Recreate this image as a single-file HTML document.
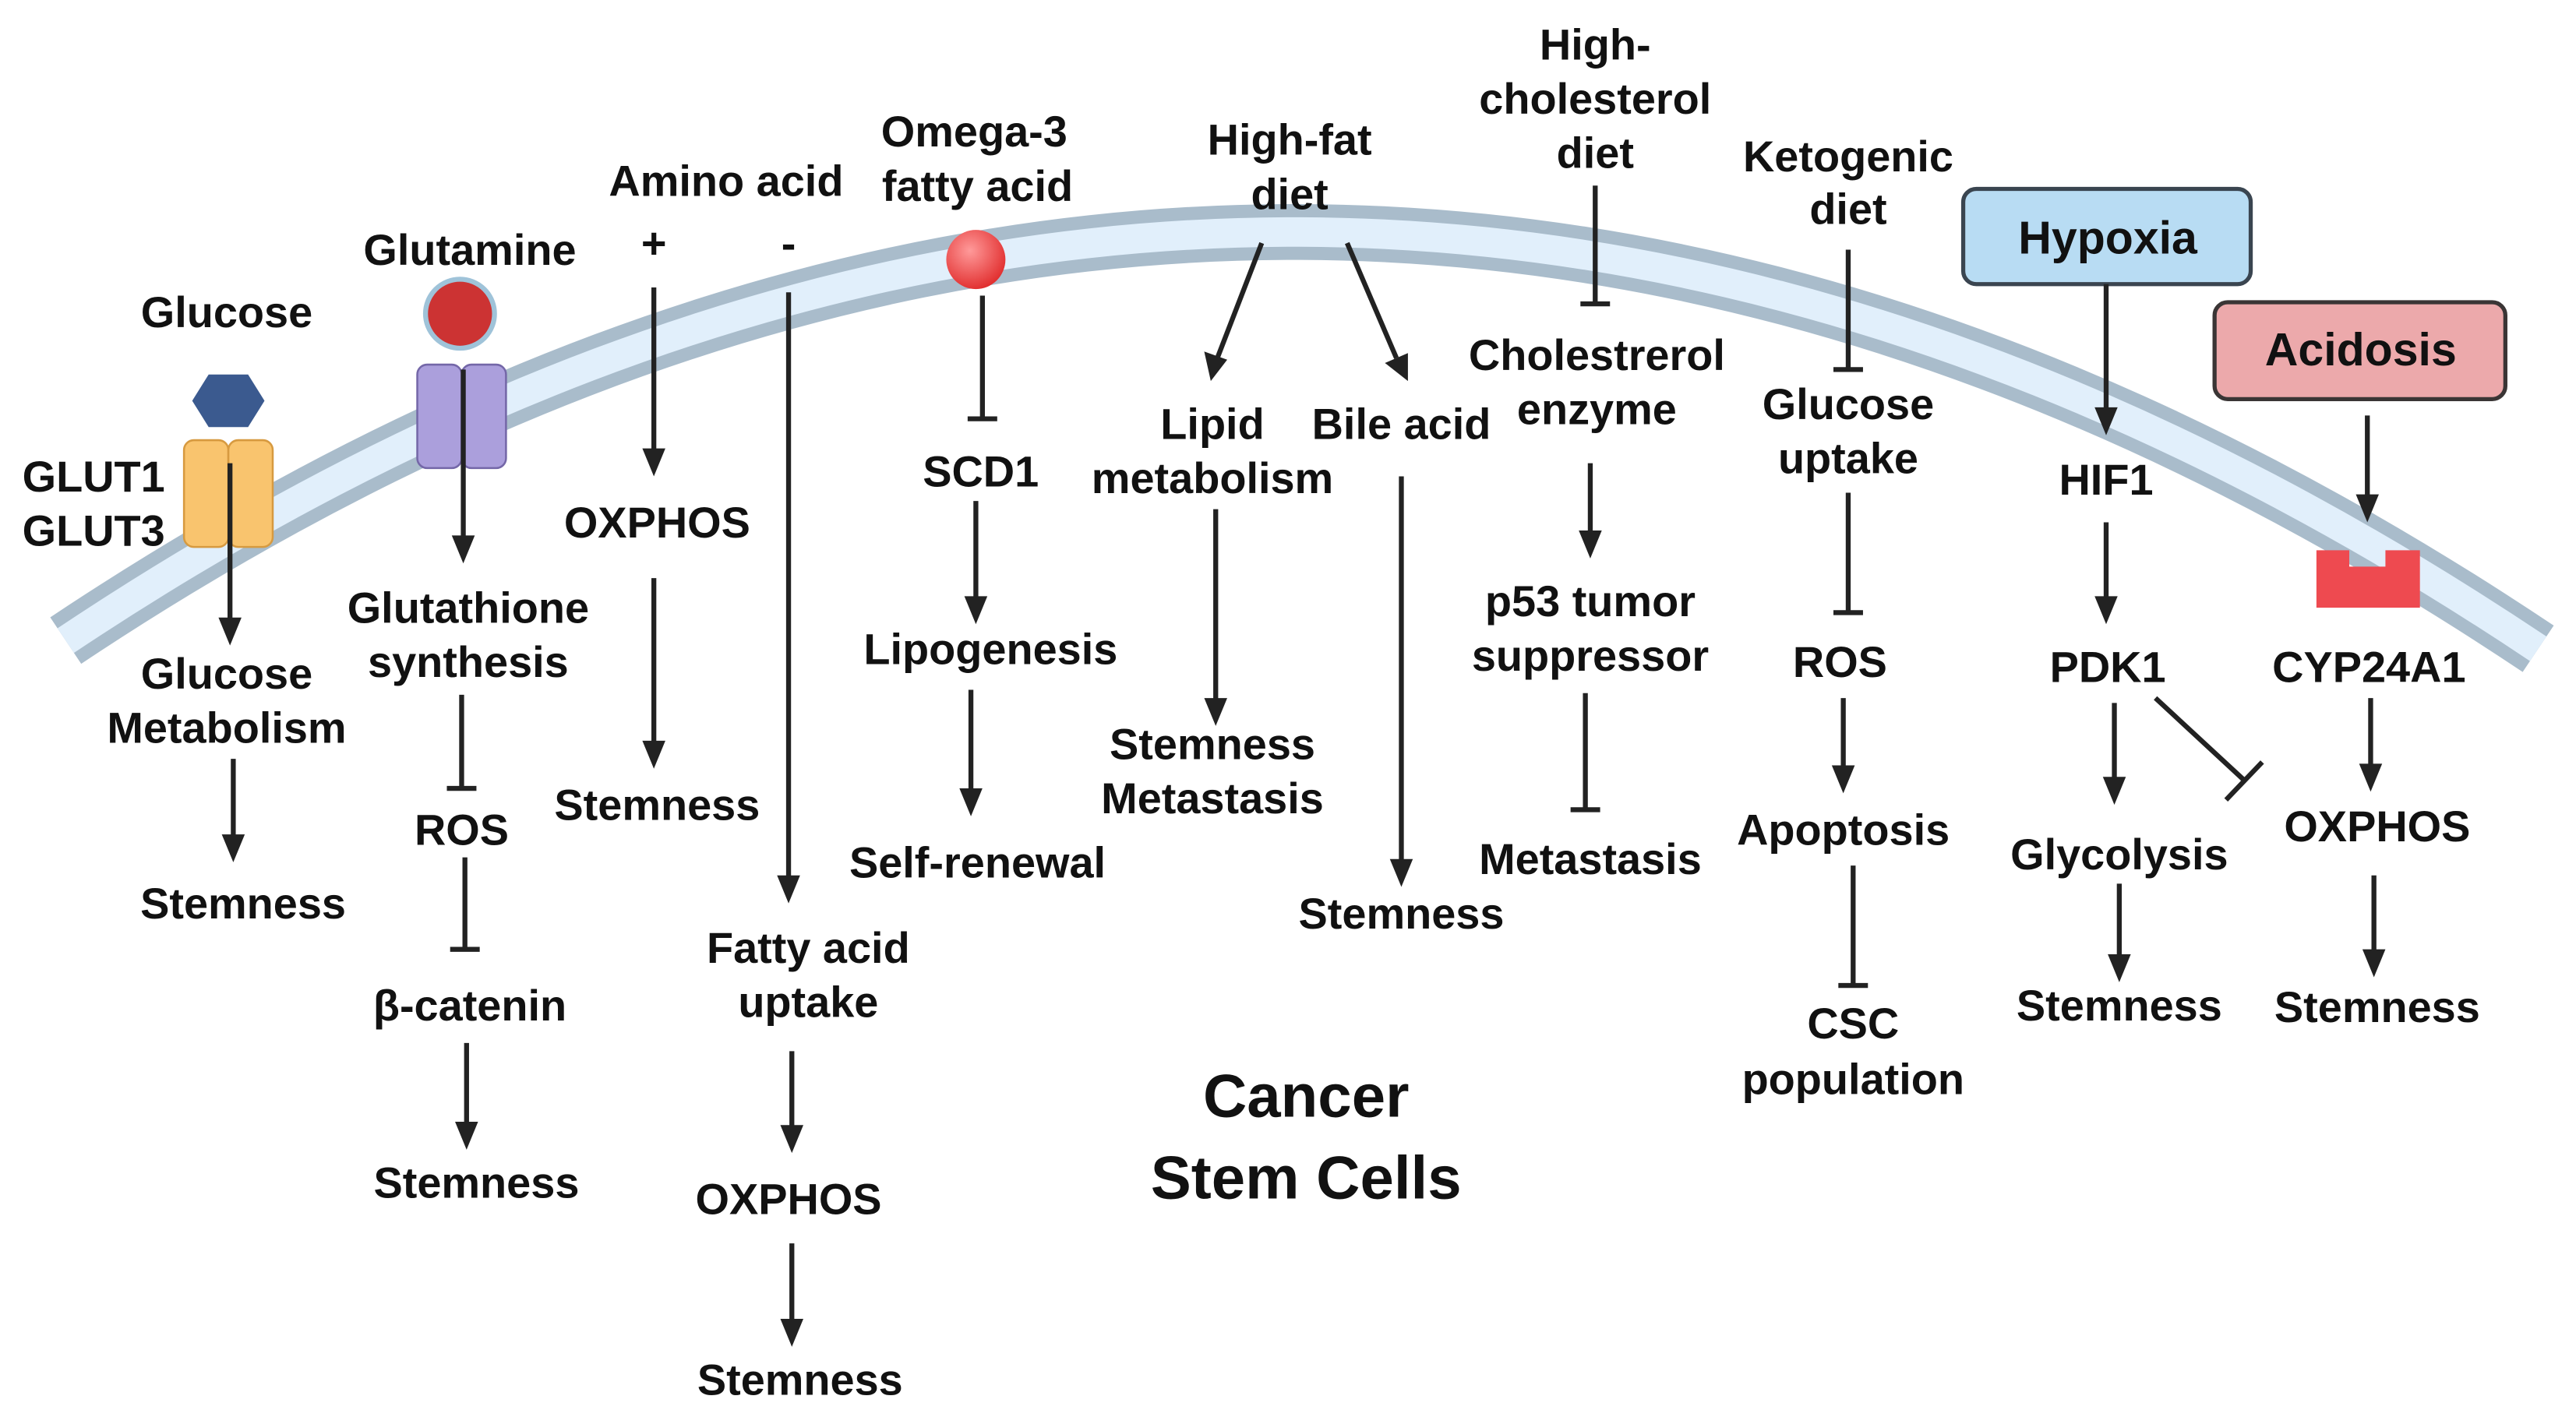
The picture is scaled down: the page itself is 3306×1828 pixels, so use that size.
<!DOCTYPE html>
<html><head><meta charset="utf-8"><style>
html,body{margin:0;padding:0;background:#fff;}
svg{display:block;}
text{font-family:"Liberation Sans",sans-serif;font-weight:bold;font-size:26.5px;fill:#111;text-anchor:middle;dominant-baseline:central;}
.l{stroke:#222;stroke-width:3;fill:none;}
</style></head><body>
<svg width="3306" height="1828" viewBox="0 0 1568 867" xmlns="http://www.w3.org/2000/svg">
<!-- membrane -->
<path d="M40,390 Q790,-110 1545,395" stroke="#a9bccb" stroke-width="34" fill="none"/>
<path d="M40,390 Q790,-110 1545,395" stroke="#e1effb" stroke-width="18" fill="none"/>

<!-- Column 1 -->
<text x="138" y="190">Glucose</text>
<polygon points="127,228 151,228 161,244 151,260 127,260 117,244" fill="#3b5a8f"/>
<rect x="112" y="268" width="27" height="65" rx="6" fill="#f9c46e" stroke="#d79a40" stroke-width="1.2"/>
<rect x="139" y="268" width="27" height="65" rx="6" fill="#f9c46e" stroke="#d79a40" stroke-width="1.2"/>
<text x="57" y="290">GLUT1</text>
<text x="57" y="323">GLUT3</text>
<line class="l" x1="140" y1="282" x2="140" y2="378"/><polygon points="133,376 147,376 140,393" fill="#222"/>
<text x="138" y="410">Glucose</text>
<text x="138" y="443">Metabolism</text>
<line class="l" x1="142" y1="462" x2="142" y2="510"/><polygon points="135,508 149,508 142,525" fill="#222"/>
<text x="148" y="550">Stemness</text>

<!-- Column 2 -->
<text x="286" y="152">Glutamine</text>
<circle cx="280" cy="191" r="21" fill="#cc3333" stroke="#9fc3d9" stroke-width="3"/>
<rect x="254" y="222" width="27" height="63" rx="6" fill="#ab9fdc" stroke="#7467a8" stroke-width="1.2"/>
<rect x="281" y="222" width="27" height="63" rx="6" fill="#ab9fdc" stroke="#7467a8" stroke-width="1.2"/>
<line class="l" x1="282" y1="225" x2="282" y2="328"/><polygon points="275,326 289,326 282,343" fill="#222"/>
<text x="285" y="370">Glutathione</text>
<text x="285" y="403">synthesis</text>
<line class="l" x1="281" y1="423" x2="281" y2="480"/><line class="l" x1="272" y1="480" x2="290" y2="480"/>
<text x="281" y="505">ROS</text>
<line class="l" x1="283" y1="522" x2="283" y2="578"/><line class="l" x1="274" y1="578" x2="292" y2="578"/>
<text x="286" y="612">β-catenin</text>
<line class="l" x1="284" y1="635" x2="284" y2="685"/><polygon points="277,683 291,683 284,700" fill="#222"/>
<text x="290" y="720">Stemness</text>

<!-- Column 3 -->
<text x="442" y="110">Amino acid</text>
<text x="398" y="148">+</text>
<text x="480" y="148">-</text>
<line class="l" x1="398" y1="175" x2="398" y2="275"/><polygon points="391,273 405,273 398,290" fill="#222"/>
<text x="400" y="318">OXPHOS</text>
<line class="l" x1="398" y1="352" x2="398" y2="453"/><polygon points="391,451 405,451 398,468" fill="#222"/>
<text x="400" y="490">Stemness</text>
<line class="l" x1="480" y1="178" x2="480" y2="535"/><polygon points="473,533 487,533 480,550" fill="#222"/>
<text x="492" y="577">Fatty acid</text>
<text x="492" y="610">uptake</text>
<line class="l" x1="482" y1="640" x2="482" y2="687"/><polygon points="475,685 489,685 482,702" fill="#222"/>
<text x="480" y="730">OXPHOS</text>
<line class="l" x1="482" y1="757" x2="482" y2="805"/><polygon points="475,803 489,803 482,820" fill="#222"/>
<text x="487" y="840">Stemness</text>

<!-- Omega-3 -->
<text x="593" y="80">Omega-3</text>
<text x="595" y="113">fatty acid</text>
<defs><radialGradient id="rg" cx="0.4" cy="0.35" r="0.7"><stop offset="0" stop-color="#ff9a9a"/><stop offset="1" stop-color="#e02a2a"/></radialGradient></defs>
<circle cx="594" cy="158" r="18" fill="url(#rg)"/>
<line class="l" x1="598" y1="180" x2="598" y2="255"/><line class="l" x1="589" y1="255" x2="607" y2="255"/>
<text x="597" y="287">SCD1</text>
<line class="l" x1="594" y1="305" x2="594" y2="365"/><polygon points="587,363 601,363 594,380" fill="#222"/>
<text x="603" y="395">Lipogenesis</text>
<line class="l" x1="591" y1="420" x2="591" y2="482"/><polygon points="584,480 598,480 591,497" fill="#222"/>
<text x="595" y="525">Self-renewal</text>

<!-- High-fat -->
<text x="785" y="85">High-fat</text>
<text x="785" y="118">diet</text>
<line class="l" x1="768" y1="148" x2="741" y2="218"/><polygon points="733,214 747,219 737,232" fill="#222"/>
<line class="l" x1="820" y1="148" x2="850" y2="218"/><polygon points="843,221 857,215 857,232" fill="#222"/>
<text x="738" y="258">Lipid</text>
<text x="738" y="291">metabolism</text>
<line class="l" x1="740" y1="310" x2="740" y2="427"/><polygon points="733,425 747,425 740,442" fill="#222"/>
<text x="738" y="453">Stemness</text>
<text x="738" y="486">Metastasis</text>
<text x="853" y="258">Bile acid</text>
<line class="l" x1="853" y1="290" x2="853" y2="525"/><polygon points="846,523 860,523 853,540" fill="#222"/>
<text x="853" y="556">Stemness</text>

<!-- Cholesterol -->
<text x="971" y="27">High-</text>
<text x="971" y="60">cholesterol</text>
<text x="971" y="93">diet</text>
<line class="l" x1="971" y1="113" x2="971" y2="185"/><line class="l" x1="962" y1="185" x2="980" y2="185"/>
<text x="972" y="216">Cholestrerol</text>
<text x="972" y="249">enzyme</text>
<line class="l" x1="968" y1="282" x2="968" y2="325"/><polygon points="961,323 975,323 968,340" fill="#222"/>
<text x="968" y="366">p53 tumor</text>
<text x="968" y="399">suppressor</text>
<line class="l" x1="965" y1="422" x2="965" y2="493"/><line class="l" x1="956" y1="493" x2="974" y2="493"/>
<text x="968" y="523">Metastasis</text>

<!-- Ketogenic -->
<text x="1125" y="95">Ketogenic</text>
<text x="1125" y="127">diet</text>
<line class="l" x1="1125" y1="152" x2="1125" y2="225"/><line class="l" x1="1116" y1="225" x2="1134" y2="225"/>
<text x="1125" y="246">Glucose</text>
<text x="1125" y="279">uptake</text>
<line class="l" x1="1125" y1="300" x2="1125" y2="373"/><line class="l" x1="1116" y1="373" x2="1134" y2="373"/>
<text x="1120" y="403">ROS</text>
<line class="l" x1="1122" y1="425" x2="1122" y2="468"/><polygon points="1115,466 1129,466 1122,483" fill="#222"/>
<text x="1122" y="505">Apoptosis</text>
<line class="l" x1="1128" y1="527" x2="1128" y2="600"/><line class="l" x1="1119" y1="600" x2="1137" y2="600"/>
<text x="1128" y="623">CSC</text>
<text x="1128" y="657">population</text>

<!-- Hypoxia -->
<rect x="1195" y="115" width="175" height="58" rx="8" fill="#b8dcf3" stroke="#3a4550" stroke-width="2.5"/>
<text x="1283" y="145" style="font-size:28px">Hypoxia</text>
<line class="l" x1="1282" y1="173" x2="1282" y2="250"/><polygon points="1275,248 1289,248 1282,265" fill="#222"/>
<text x="1282" y="292">HIF1</text>
<line class="l" x1="1282" y1="318" x2="1282" y2="365"/><polygon points="1275,363 1289,363 1282,380" fill="#222"/>
<text x="1283" y="406">PDK1</text>
<line class="l" x1="1287" y1="428" x2="1287" y2="475"/><polygon points="1280,473 1294,473 1287,490" fill="#222"/>
<line class="l" x1="1312" y1="425" x2="1366" y2="475"/><line class="l" x1="1355" y1="487" x2="1377" y2="464"/>
<text x="1290" y="520">Glycolysis</text>
<line class="l" x1="1290" y1="538" x2="1290" y2="583"/><polygon points="1283,581 1297,581 1290,598" fill="#222"/>
<text x="1290" y="612">Stemness</text>

<!-- Acidosis -->
<rect x="1348" y="184" width="177" height="59" rx="8" fill="#eca9ab" stroke="#3a3535" stroke-width="2.5"/>
<text x="1437" y="213" style="font-size:28px">Acidosis</text>
<line class="l" x1="1441" y1="253" x2="1441" y2="303"/><polygon points="1434,301 1448,301 1441,318" fill="#222"/>
<path d="M1410,335 H1430 V345 H1452 V335 H1473 V370 H1410 Z" fill="#ee4a50"/>
<text x="1442" y="406">CYP24A1</text>
<line class="l" x1="1443" y1="425" x2="1443" y2="467"/><polygon points="1436,465 1450,465 1443,482" fill="#222"/>
<text x="1447" y="503">OXPHOS</text>
<line class="l" x1="1445" y1="533" x2="1445" y2="580"/><polygon points="1438,578 1452,578 1445,595" fill="#222"/>
<text x="1447" y="613">Stemness</text>

<!-- Center -->
<text x="795" y="667" style="font-size:37px">Cancer</text>
<text x="795" y="717" style="font-size:37px">Stem Cells</text>
</svg>
</body></html>
